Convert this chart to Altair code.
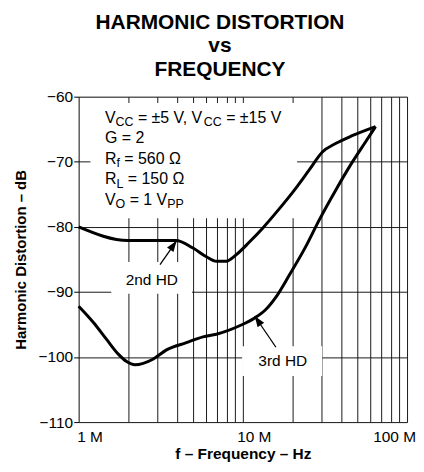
import altair as alt
import pandas as pd

# ---------------- data ----------------
freq_2nd_mhz = [1.0, 2.0, 3.9, 5.0, 6.0, 6.9, 7.9, 9.1, 11.0, 13.2, 16.7, 20.1, 25.3, 30.5, 36.7, 46.3, 64.3]
hd_2nd_db = [-80.0, -82.1, -82.1, -83.3, -84.6, -85.3, -85.3, -84.3, -82.3, -80.2, -77.2, -74.7, -71.3, -68.5, -67.2, -66.0, -64.6]

freq_3rd_mhz = [1.0, 1.23, 1.48, 1.75, 1.96, 2.2, 2.85, 3.43, 4.53, 5.72, 6.9, 9.55, 11.8, 13.8, 15.9, 19.2, 24.2, 29.1, 36.7, 46.3, 55.7, 64.3]
hd_3rd_db = [-92.2, -94.7, -97.3, -99.6, -100.7, -101.2, -100.3, -98.9, -97.8, -96.9, -96.5, -95.2, -94.0, -92.7, -90.8, -87.4, -83.0, -79.0, -74.4, -70.1, -67.0, -64.6]

x_label_values = [1e6, 1e7, 1e8]
x_label_texts = ["1 M", "10 M", "100 M"]
y_tick_values = [-110, -100, -90, -80, -70, -60]

title_lines = ["HARMONIC DISTORTION", "vs", "FREQUENCY"]
x_title = "f \u2013 Frequency \u2013 Hz"
y_title = "Harmonic Distortion \u2013 dB"

# annotation: label boxes (white backgrounds), in data units
box_f_lo = [1.18e6, 1.58e6, 9.9e6]
box_f_hi = [21.4e6, 4.9e6, 30.4e6]
box_db_hi = [-60.96, -85.4, -98.35]
box_db_lo = [-78.67, -90.27, -102.93]

# curve labels and arrows
label_text = ["2nd HD", "3rd HD"]
label_f = [2.79e6, 17.5e6]
label_db = [-88.1, -100.6]
arrow_tail_f = [3.13e6, 15.9e6]
arrow_tail_db = [-85.8, -98.5]
arrow_tip_f = [3.95e6, 11.8e6]
arrow_tip_db = [-82.15, -93.7]
arrow_angle = [35.6, 325.5]

# condition block (rich text: main/sub segments per line)
cond_f = 1.445e6
cond_db = [-64.01, -67.17, -70.33, -73.48, -76.64]
cond_lines = [
    [("V", 0), ("CC", 1), (" = \u00b15 V, V", 0), ("CC", 1), (" = \u00b115 V", 0)],
    [("G = 2", 0)],
    [("R", 0), ("f", 1), (" = 560 \u03a9", 0)],
    [("R", 0), ("L", 1), (" = 150 \u03a9", 0)],
    [("V", 0), ("O", 1), (" = 1 V", 0), ("PP", 1)],
]

FONT = "Liberation Sans"
LABEL_FS = 15.5
COND_FS = 16
SUB_FS = 12.5
SUB_DY = 3.5

# Arial / Liberation Sans advance widths (1/1000 em)
ADV = {'V': 667, 'C': 722, ' ': 278, '=': 584, '\u00b1': 549, '5': 556, ',': 278,
       '1': 556, 'G': 778, '2': 556, 'R': 722, 'f': 278, '6': 556, '0': 556, '\u03a9': 768,
       'L': 556, 'O': 778, 'P': 667}


def text_width(s, fs):
    return sum(ADV.get(ch, 556) for ch in s) / 1000.0 * fs


# ---------------- chart ----------------
x_ticks_all = [k * 10 ** e for e in (6, 7) for k in range(1, 10)] + [1e8]
label_expr = " : ".join(
    f"datum.value == {int(v)} ? '{t}'" for v, t in zip(x_label_values, x_label_texts)
) + " : ''"

x_scale = alt.Scale(type="log", domain=[1e6, 1e8])
y_scale = alt.Scale(domain=[-110, -60])

x_axis = alt.Axis(
    values=x_ticks_all, labelExpr=label_expr, grid=True, gridColor="#1a1a1a", gridWidth=1,
    ticks=False, domain=False, labelOverlap=False, labelFlush=False,
    labelFont=FONT, labelFontSize=LABEL_FS, labelColor="black", labelPadding=8,
    labelOffset={"condition": {"test": "datum.value >= 100000000", "value": -13}, "value": 11},
    title=x_title, titleFont=FONT, titleFontSize=15.5, titleFontWeight="bold",
    titleColor="black", titlePadding=1,
)
y_axis = alt.Axis(
    values=y_tick_values, grid=True, gridColor="#1a1a1a", gridWidth=1,
    ticks=True, tickSize=5, tickColor="black", tickWidth=1, domain=False,
    labelFont=FONT, labelFontSize=LABEL_FS, labelColor="black", labelPadding=1,
    title=y_title, titleFont=FONT, titleFontSize=15, titleFontWeight="bold",
    titleColor="black", titlePadding=10,
)

curves = pd.DataFrame({
    "f": [v * 1e6 for v in freq_2nd_mhz] + [v * 1e6 for v in freq_3rd_mhz],
    "db": hd_2nd_db + hd_3rd_db,
    "series": ["2nd HD"] * len(freq_2nd_mhz) + ["3rd HD"] * len(freq_3rd_mhz),
    "order": list(range(len(freq_2nd_mhz))) + list(range(len(freq_3rd_mhz))),
})

boxes = pd.DataFrame({"f1": box_f_lo, "f2": box_f_hi, "d1": box_db_hi, "d2": box_db_lo})

box_layer = alt.Chart(boxes).mark_rect(color="white", opacity=1).encode(
    x=alt.X("f1:Q", scale=x_scale, axis=x_axis),
    x2="f2:Q",
    y=alt.Y("d1:Q", scale=y_scale, axis=y_axis),
    y2="d2:Q",
)

line_layer = alt.Chart(curves).mark_line(color="black", strokeWidth=3, interpolate="monotone").encode(
    x=alt.X("f:Q", scale=x_scale),
    y=alt.Y("db:Q", scale=y_scale),
    detail="series:N",
    order="order:Q",
)

arrows = pd.DataFrame({
    "tf": arrow_tail_f, "td": arrow_tail_db, "hf": arrow_tip_f, "hd": arrow_tip_db, "ang": arrow_angle,
})
arrow_lines = alt.Chart(arrows).mark_rule(color="black", strokeWidth=1.3).encode(
    x=alt.X("tf:Q", scale=x_scale), x2="hf:Q",
    y=alt.Y("td:Q", scale=y_scale), y2="hd:Q",
)
arrow_heads = alt.Chart(arrows).mark_point(
    shape="M0,0L-0.36,1L0.36,1Z", filled=True, color="black", opacity=1, size=484, strokeWidth=0,
).encode(
    x=alt.X("hf:Q", scale=x_scale),
    y=alt.Y("hd:Q", scale=y_scale),
    angle=alt.Angle("ang:Q", scale=None),
)

labels = pd.DataFrame({"f": label_f, "db": label_db, "t": label_text})
label_layer = alt.Chart(labels).mark_text(
    font=FONT, fontSize=LABEL_FS, color="black", align="center", baseline="middle",
).encode(
    x=alt.X("f:Q", scale=x_scale), y=alt.Y("db:Q", scale=y_scale), text="t:N",
)

cond_layers = []
for db, segs in zip(cond_db, cond_lines):
    off = 0.0
    for txt, is_sub in segs:
        fs = SUB_FS if is_sub else COND_FS
        stripped = txt.lstrip(" ")
        off += text_width(txt[: len(txt) - len(stripped)], fs)  # leading spaces as offset
        seg_df = pd.DataFrame({"f": [cond_f], "db": [db], "t": [stripped]})
        cond_layers.append(
            alt.Chart(seg_df).mark_text(
                font=FONT, fontSize=fs, color="black", align="left", baseline="alphabetic",
                dx=off, dy=SUB_DY if is_sub else 0,
            ).encode(
                x=alt.X("f:Q", scale=x_scale), y=alt.Y("db:Q", scale=y_scale), text="t:N",
            )
        )
        off += text_width(stripped, fs)

chart = alt.layer(
    box_layer, line_layer, arrow_lines, arrow_heads, label_layer, *cond_layers
).properties(
    width=330, height=327,
    padding={"left": 5, "top": 3, "right": 0, "bottom": 0},
    title=alt.TitleParams(
        text=title_lines, font=FONT, fontSize=21, fontWeight="bold", color="black",
        anchor="middle", lineHeight=23.5, offset=10, dx=-23,
    ),
).configure_view(
    stroke="black", strokeWidth=2,
).configure(background="white")

chart.save("out.html", embed_options={"renderer": "svg", "actions": False})
